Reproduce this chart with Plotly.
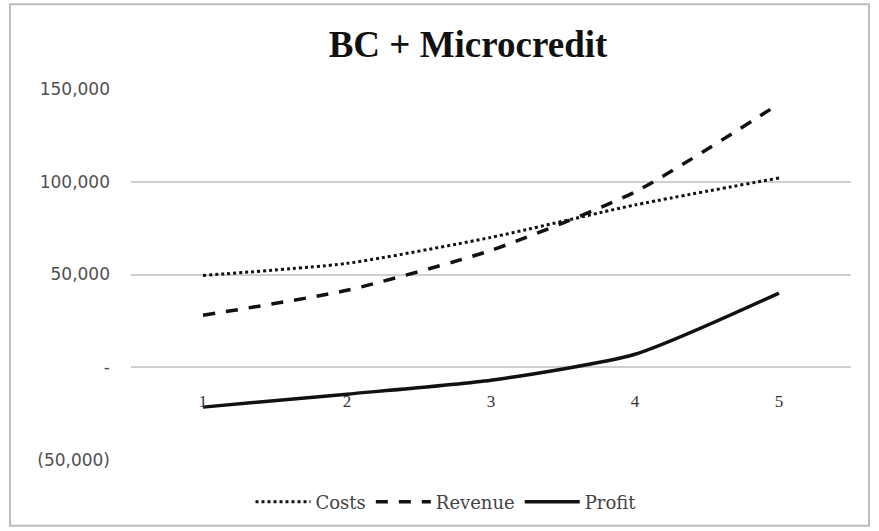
import plotly.graph_objects as go

years = [1, 2, 3, 4, 5]
costs = [49500, 56000, 70000, 87500, 102000]
revenue = [28000, 41500, 63000, 94500, 142000]
profit = [-21500, -14500, -7000, 7000, 40000]

y_tickvals = [-50000, 0, 50000, 100000, 150000]
y_ticktext = ["(50,000)", "-", "50,000", "100,000", "150,000"]

fig = go.Figure()
fig.add_trace(go.Scatter(x=years, y=costs, name="Costs", mode="lines",
                         line=dict(color="#111111", width=3, dash="3px,3px", shape="spline", smoothing=0.6)))
fig.add_trace(go.Scatter(x=years, y=revenue, name="Revenue", mode="lines",
                         line=dict(color="#111111", width=3.5, dash="12px,11px", shape="spline", smoothing=0.6)))
fig.add_trace(go.Scatter(x=years, y=profit, name="Profit", mode="lines",
                         line=dict(color="#111111", width=3.5, shape="spline", smoothing=0.6)))

W, H = 879, 531
L, R, T, B = 131, 28, 89, 70
pw, ph = W - L - R, H - T - B

def px_x(x):
    return (x - L) / pw

def px_y(y):
    return (H - B - y) / ph

fig.update_layout(
    width=W, height=H,
    margin=dict(l=L, r=R, t=T, b=B),
    paper_bgcolor="white", plot_bgcolor="white",
    title=dict(text="<b>BC + Microcredit</b>", x=468 / W, xanchor="center",
               y=1 - 44 / H, yanchor="middle",
               font=dict(family="Liberation Serif", size=37, color="#111111")),
    showlegend=True,
    legend=dict(orientation="h", x=px_x(446), y=px_y(502), xanchor="center", yanchor="middle",
                font=dict(family="DejaVu Serif", size=18, color="#444444"),
                bgcolor="rgba(0,0,0,0)", itemwidth=55, tracegroupgap=0),
    xaxis=dict(range=[0.5, 5.5], tickvals=years, ticktext=[str(v) for v in years],
               showgrid=False, zeroline=False, showline=False, ticks="",
               anchor="free", position=px_y(368), ticklabelstandoff=22,
               tickfont=dict(family="Liberation Serif", size=17, color="#333333")),
    yaxis=dict(range=[-50000, 150000], tickvals=y_tickvals, ticktext=y_ticktext,
               showgrid=True, gridcolor="#cfcfcf", gridwidth=1.5, zeroline=False,
               showline=False, ticks="", ticklabelstandoff=20,
               tickfont=dict(family="DejaVu Sans", size=17, color="#505050")),
    shapes=[dict(type="rect", xref="paper", yref="paper",
                 x0=px_x(10), x1=px_x(869), y0=px_y(527), y1=px_y(4),
                 line=dict(color="#bdbdbd", width=2), fillcolor="rgba(0,0,0,0)", layer="below")],
)

fig.write_html("out.html", config={"displayModeBar": False},
               post_script="document.body.style.margin='0';document.body.style.padding='0';")
